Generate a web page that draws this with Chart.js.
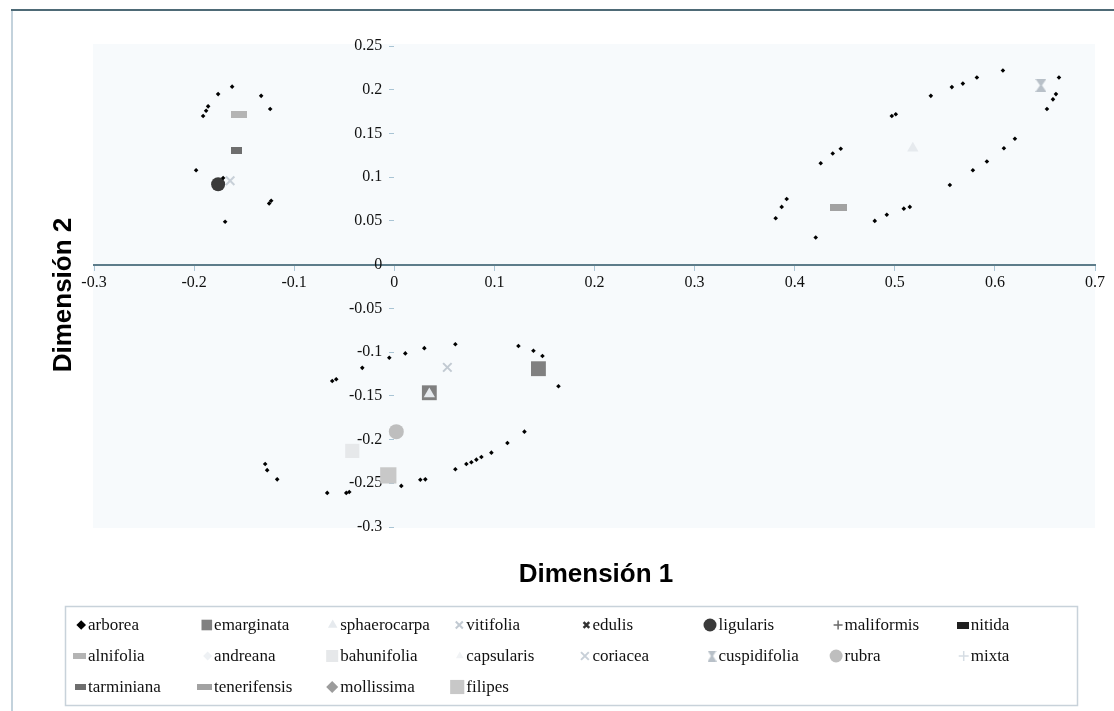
<!DOCTYPE html>
<html>
<head>
<meta charset="utf-8">
<script src="https://cdn.jsdelivr.net/npm/chart.js"></script>
<style>
    body { margin: 0; background: #ffffff; }
    #wrap { width: 1114px; height: 711px; }
</style>
</head>
<body>
<div id="wrap"><canvas id="chart" width="1114" height="711"></canvas></div>
<script>
// axis ticks
const xTicks = [-0.3, -0.2, -0.1, 0, 0.1, 0.2, 0.3, 0.4, 0.5, 0.6, 0.7];
const yTicks = [-0.3, -0.25, -0.2, -0.15, -0.1, -0.05, 0, 0.05, 0.1, 0.15, 0.2, 0.25];

// points, [dimension 1, dimension 2]
const arborea = [
    [-0.162, 0.2035], [-0.176, 0.195], [-0.133, 0.193], [-0.186, 0.181], [-0.188, 0.176],
    [-0.191, 0.170], [-0.124, 0.178], [-0.198, 0.108], [-0.171, 0.099], [-0.123, 0.073],
    [-0.125, 0.070], [-0.169, 0.049],
    [0.608, 0.222], [0.582, 0.214], [0.568, 0.207], [0.557, 0.203], [0.536, 0.193],
    [0.497, 0.170], [0.501, 0.172], [0.446, 0.1325], [0.438, 0.127], [0.426, 0.116],
    [0.392, 0.075], [0.387, 0.066], [0.381, 0.053], [0.421, 0.031], [0.480, 0.050],
    [0.492, 0.057], [0.509, 0.064], [0.515, 0.066], [0.555, 0.091], [0.578, 0.108],
    [0.592, 0.118], [0.609, 0.133], [0.620, 0.144], [0.664, 0.214], [0.661, 0.195],
    [0.658, 0.189], [0.652, 0.178],
    [-0.005, -0.1065], [0.011, -0.1015], [0.030, -0.0955], [0.061, -0.091], [0.124, -0.093],
    [0.139, -0.0985], [0.148, -0.1045], [0.164, -0.139], [-0.032, -0.118], [-0.062, -0.133],
    [-0.058, -0.131], [0.130, -0.191], [0.113, -0.204], [0.097, -0.215], [0.087, -0.220],
    [0.082, -0.223], [0.077, -0.226], [0.072, -0.228], [0.061, -0.234], [0.026, -0.246],
    [0.031, -0.2455], [0.007, -0.253], [-0.067, -0.261], [-0.048, -0.261], [-0.045, -0.260],
    [-0.129, -0.228], [-0.127, -0.235], [-0.117, -0.2455]
];
const emarginata = [[0.144, -0.119], [0.035, -0.1465]];
const sphaerocarpa = [[0.518, 0.133], [0.035, -0.148]];
const vitifolia = [[0.053, -0.1175]];
const edulis = [];
const ligularis = [[-0.176, 0.092]];
const maliformis = [];
const nitida = [];
const alnifolia = [[-0.155, 0.172]];
const andreana = [];
const bahunifolia = [[-0.042, -0.213]];
const capsularis = [];
const coriacea = [[-0.164, 0.096]];
const cuspidifolia = [[0.646, 0.205]];
const rubra = [[0.002, -0.191]];
const mixta = [];
const tarminiana = [[-0.158, 0.131]];
const tenerifensis = [[0.444, 0.0655]];
const mollissima = [];
const filipes = [[-0.006, -0.241]];

function dashCanvas(w, h, color) {
    const c = document.createElement('canvas');
    c.width = w; c.height = h;
    const g = c.getContext('2d');
    g.fillStyle = color;
    g.fillRect(0, 0, w, h);
    return c;
}

function hourglassCanvas(w, h, color) {
    const c = document.createElement('canvas');
    c.width = w; c.height = h;
    const g = c.getContext('2d');
    g.fillStyle = color;
    g.beginPath();
    g.moveTo(0, 0); g.lineTo(w, 0); g.lineTo(w / 2 + 1, h / 2);
    g.lineTo(w, h); g.lineTo(0, h); g.lineTo(w / 2 - 1, h / 2);
    g.closePath();
    g.fill();
    return c;
}

function markerStyle(shape, size, color) {
    if (shape === 'dash') return { style: dashCanvas(size[0], size[1], color), half: size[0] / 2 };
    if (shape === 'hourglass') return { style: hourglassCanvas(size[0], size[1], color), half: size[0] / 2 };
    const half = shape === 'rect' ? size * Math.SQRT1_2 : size;
    return { style: shape, radius: size, half: half };
}

// name, data, shape, plot size, legend size, colour, line width
const series = [
    ['arborea', arborea, 'rectRot', 2.3, 4.8, '#000000', 0],
    ['emarginata', emarginata, 'rect', 10.5, 7.5, '#808080', 0],
    ['sphaerocarpa', sphaerocarpa, 'triangle', 6.5, 5.5, '#e6eaee', 0],
    ['vitifolia', vitifolia, 'crossRot', 6, 5, '#c2cad2', 2],
    ['edulis', edulis, 'crossRot', 5, 4, '#333333', 2.5],
    ['ligularis', ligularis, 'circle', 7, 6.5, '#3a3a3a', 0],
    ['maliformis', maliformis, 'cross', 5, 4.5, '#6a6a6a', 1.5],
    ['nitida', nitida, 'dash', [11, 7], [12, 7], '#202020', 0],
    ['alnifolia', alnifolia, 'dash', [16, 7], [13, 6], '#b4b4b4', 0],
    ['andreana', andreana, 'rectRot', 5, 4.5, '#eef1f4', 0],
    ['bahunifolia', bahunifolia, 'rect', 10, 8.5, '#e6e8ea', 0],
    ['capsularis', capsularis, 'triangle', 5, 4.5, '#f1f3f5', 0],
    ['coriacea', coriacea, 'crossRot', 6, 5.5, '#c8d0d8', 2],
    ['cuspidifolia', cuspidifolia, 'hourglass', [11, 13], [9, 11], '#b8c0c8', 0],
    ['rubra', rubra, 'circle', 7.5, 6.5, '#bebebe', 0],
    ['mixta', mixta, 'cross', 5, 5, '#d6dde4', 1.5],
    ['tarminiana', tarminiana, 'dash', [11, 7], [11, 6], '#6e6e6e', 0],
    ['tenerifensis', tenerifensis, 'dash', [17, 7], [15, 6], '#a2a2a2', 0],
    ['mollissima', mollissima, 'rectRot', 6, 6, '#9c9c9c', 0],
    ['filipes', filipes, 'rect', 11.5, 10, '#c8c8c8', 0]
];

const datasets = series.map(s => {
    const m = markerStyle(s[2], s[3], s[5]);
    const l = markerStyle(s[2], s[4], s[5]);
    return {
        label: s[0],
        data: s[1].map(p => ({ x: p[0], y: p[1] })),
        pointStyle: m.style,
        pointRadius: m.radius || m.half,
        pointHoverRadius: m.radius || m.half,
        backgroundColor: s[5],
        borderColor: s[5],
        borderWidth: s[6],
        order: s[0] === 'sphaerocarpa' ? -1 : 0,
        legendMarker: l,
        legendLine: s[6]
    };
});

function fmt(v) {
    return String(parseFloat(Number(v).toFixed(2)));
}

const tickFont = { family: '"Liberation Serif", "Times New Roman", serif', size: 16 };

const frameAndBackground = {
    id: 'frameAndBackground',
    beforeDraw(chart) {
        const { ctx, chartArea: a } = chart;
        ctx.save();
        ctx.fillStyle = '#f7fafc';
        ctx.fillRect(a.left - 1, a.top - 2, a.right - a.left + 1, a.bottom - a.top + 3);
        ctx.strokeStyle = '#c3d2dc';
        ctx.lineWidth = 2;
        ctx.beginPath();
        ctx.moveTo(12, 10); ctx.lineTo(12, 711);
        ctx.stroke();
        ctx.strokeStyle = '#4e6a76';
        ctx.beginPath();
        ctx.moveTo(11, 10); ctx.lineTo(1114, 10);
        ctx.stroke();
        ctx.restore();
    }
};

const titlesAndLegend = {
    id: 'titlesAndLegend',
    afterDraw(chart) {
        const ctx = chart.ctx;
        ctx.save();
        ctx.fillStyle = '#000000';
        ctx.font = 'bold 26px "Liberation Sans", Arial, sans-serif';
        ctx.textAlign = 'center';
        ctx.textBaseline = 'alphabetic';
        ctx.fillText('Dimensión 1', 596, 582);
        ctx.translate(71, 295);
        ctx.rotate(-Math.PI / 2);
        ctx.fillText('Dimensión 2', 0, 0);
        ctx.restore();

        // legend box, 8 columns
        ctx.save();
        ctx.strokeStyle = '#c8d2da';
        ctx.lineWidth = 1.5;
        ctx.strokeRect(65.5, 606.5, 1012, 99);
        ctx.font = '17px "Liberation Serif", "Times New Roman", serif';
        ctx.textAlign = 'left';
        ctx.textBaseline = 'middle';
        chart.data.datasets.forEach((ds, i) => {
            const col = i % 8;
            const row = Math.floor(i / 8);
            const tx = 88 + col * 126.1;
            const y = 625 + row * 31;
            const m = ds.legendMarker;
            const mx = tx - 2 - m.half;
            ctx.fillStyle = ds.backgroundColor;
            ctx.strokeStyle = ds.borderColor;
            ctx.lineWidth = ds.legendLine;
            Chart.helpers.drawPoint(ctx, {
                pointStyle: m.style,
                radius: m.radius || m.half,
                rotation: 0,
                borderWidth: ds.legendLine
            }, mx, y);
            ctx.fillStyle = '#111111';
            ctx.fillText(ds.label, tx, y + 1);
        });
        ctx.restore();
    }
};

new Chart(document.getElementById('chart'), {
    type: 'scatter',
    data: { datasets: datasets },
    options: {
        responsive: false,
        animation: false,
        layout: { padding: { left: 94, right: 19, top: 46, bottom: 184 } },
        plugins: {
            legend: { display: false },
            tooltip: { enabled: true }
        },
        scales: {
            x: {
                type: 'linear',
                min: -0.3,
                max: 0.7,
                position: { y: 0 },
                afterBuildTicks: scale => { scale.ticks = xTicks.map(v => ({ value: v })); },
                grid: { drawOnChartArea: false, drawTicks: true, tickLength: 5, color: '#a9c4d4' },
                border: { display: true, color: '#5d7c8a', width: 2 },
                ticks: {
                    font: tickFont,
                    color: '#111111',
                    padding: 4,
                    maxRotation: 0,
                    autoSkip: false,
                    callback: v => fmt(v)
                }
            },
            y: {
                type: 'linear',
                min: -0.3,
                max: 0.25,
                position: { x: 0 },
                afterBuildTicks: scale => { scale.ticks = yTicks.map(v => ({ value: v })); },
                grid: { drawOnChartArea: false, drawTicks: true, tickLength: 5, color: '#a9c4d4' },
                border: { display: false },
                ticks: {
                    font: tickFont,
                    color: '#111111',
                    autoSkip: false,
                    callback: v => fmt(v) + '   '
                }
            }
        }
    },
    plugins: [frameAndBackground, titlesAndLegend]
});
</script>
</body>
</html>
